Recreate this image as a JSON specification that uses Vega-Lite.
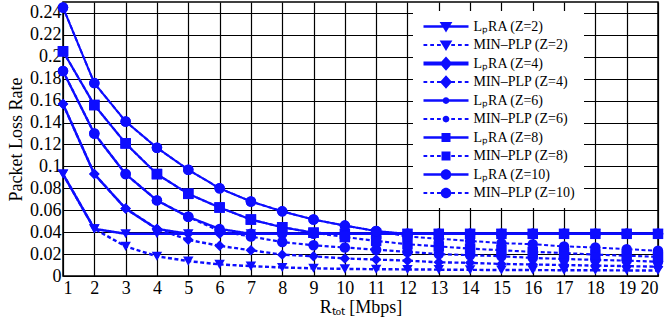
{
  "$schema": "https://vega.github.io/schema/vega-lite/v6.json",
  "width": 595,
  "height": 274,
  "autosize": "none",
  "padding": {"left": 63, "top": 2, "right": 10, "bottom": 48},
  "background": "white",
  "config": {
    "view": {"stroke": "black", "strokeWidth": 1.5},
    "font": "Liberation Serif",
    "axis": {
      "grid": true, "gridColor": "black", "gridOpacity": 1, "gridWidth": 1.2,
      "domain": false, "ticks": false,
      "labelFont": "Liberation Serif", "labelFontSize": 18, "labelColor": "black",
      "titleFont": "Liberation Serif", "titleFontSize": 18, "titleFontWeight": "normal", "titleColor": "black"
    }
  },
  "data": {"values": [
    {"s":"LₚRA (Z=2)","x":1,"y":0.093},{"s":"LₚRA (Z=2)","x":2,"y":0.043},{"s":"LₚRA (Z=2)","x":3,"y":0.0385},{"s":"LₚRA (Z=2)","x":4,"y":0.0385},{"s":"LₚRA (Z=2)","x":5,"y":0.0385},{"s":"LₚRA (Z=2)","x":6,"y":0.0385},{"s":"LₚRA (Z=2)","x":7,"y":0.0385},{"s":"LₚRA (Z=2)","x":8,"y":0.0385},{"s":"LₚRA (Z=2)","x":9,"y":0.0385},{"s":"LₚRA (Z=2)","x":10,"y":0.0385},{"s":"LₚRA (Z=2)","x":11,"y":0.0385},{"s":"LₚRA (Z=2)","x":12,"y":0.0385},{"s":"LₚRA (Z=2)","x":13,"y":0.0385},{"s":"LₚRA (Z=2)","x":14,"y":0.0385},{"s":"LₚRA (Z=2)","x":15,"y":0.0385},{"s":"LₚRA (Z=2)","x":16,"y":0.0385},{"s":"LₚRA (Z=2)","x":17,"y":0.0385},{"s":"LₚRA (Z=2)","x":18,"y":0.0385},{"s":"LₚRA (Z=2)","x":19,"y":0.0385},{"s":"LₚRA (Z=2)","x":20,"y":0.0385},
    {"s":"MIN–PLP (Z=2)","x":1,"y":0.093},{"s":"MIN–PLP (Z=2)","x":2,"y":0.043},{"s":"MIN–PLP (Z=2)","x":3,"y":0.027},{"s":"MIN–PLP (Z=2)","x":4,"y":0.018},{"s":"MIN–PLP (Z=2)","x":5,"y":0.0136},{"s":"MIN–PLP (Z=2)","x":6,"y":0.0106},{"s":"MIN–PLP (Z=2)","x":7,"y":0.009},{"s":"MIN–PLP (Z=2)","x":8,"y":0.0078},{"s":"MIN–PLP (Z=2)","x":9,"y":0.007},{"s":"MIN–PLP (Z=2)","x":10,"y":0.0065},{"s":"MIN–PLP (Z=2)","x":11,"y":0.0062},{"s":"MIN–PLP (Z=2)","x":12,"y":0.006},{"s":"MIN–PLP (Z=2)","x":13,"y":0.0058},{"s":"MIN–PLP (Z=2)","x":14,"y":0.0056},{"s":"MIN–PLP (Z=2)","x":15,"y":0.0055},{"s":"MIN–PLP (Z=2)","x":16,"y":0.0054},{"s":"MIN–PLP (Z=2)","x":17,"y":0.0053},{"s":"MIN–PLP (Z=2)","x":18,"y":0.0052},{"s":"MIN–PLP (Z=2)","x":19,"y":0.0051},{"s":"MIN–PLP (Z=2)","x":20,"y":0.005},
    {"s":"LₚRA (Z=4)","x":1,"y":0.157},{"s":"LₚRA (Z=4)","x":2,"y":0.093},{"s":"LₚRA (Z=4)","x":3,"y":0.0615},{"s":"LₚRA (Z=4)","x":4,"y":0.043},{"s":"LₚRA (Z=4)","x":5,"y":0.0385},{"s":"LₚRA (Z=4)","x":6,"y":0.0385},{"s":"LₚRA (Z=4)","x":7,"y":0.0385},{"s":"LₚRA (Z=4)","x":8,"y":0.0385},{"s":"LₚRA (Z=4)","x":9,"y":0.0385},{"s":"LₚRA (Z=4)","x":10,"y":0.0385},{"s":"LₚRA (Z=4)","x":11,"y":0.0385},{"s":"LₚRA (Z=4)","x":12,"y":0.0385},{"s":"LₚRA (Z=4)","x":13,"y":0.0385},{"s":"LₚRA (Z=4)","x":14,"y":0.0385},{"s":"LₚRA (Z=4)","x":15,"y":0.0385},{"s":"LₚRA (Z=4)","x":16,"y":0.0385},{"s":"LₚRA (Z=4)","x":17,"y":0.0385},{"s":"LₚRA (Z=4)","x":18,"y":0.0385},{"s":"LₚRA (Z=4)","x":19,"y":0.0385},{"s":"LₚRA (Z=4)","x":20,"y":0.0385},
    {"s":"MIN–PLP (Z=4)","x":1,"y":0.157},{"s":"MIN–PLP (Z=4)","x":2,"y":0.093},{"s":"MIN–PLP (Z=4)","x":3,"y":0.0615},{"s":"MIN–PLP (Z=4)","x":4,"y":0.043},{"s":"MIN–PLP (Z=4)","x":5,"y":0.033},{"s":"MIN–PLP (Z=4)","x":6,"y":0.0275},{"s":"MIN–PLP (Z=4)","x":7,"y":0.0235},{"s":"MIN–PLP (Z=4)","x":8,"y":0.0195},{"s":"MIN–PLP (Z=4)","x":9,"y":0.018},{"s":"MIN–PLP (Z=4)","x":10,"y":0.016},{"s":"MIN–PLP (Z=4)","x":11,"y":0.015},{"s":"MIN–PLP (Z=4)","x":12,"y":0.014},{"s":"MIN–PLP (Z=4)","x":13,"y":0.0125},{"s":"MIN–PLP (Z=4)","x":14,"y":0.012},{"s":"MIN–PLP (Z=4)","x":15,"y":0.011},{"s":"MIN–PLP (Z=4)","x":16,"y":0.0105},{"s":"MIN–PLP (Z=4)","x":17,"y":0.01},{"s":"MIN–PLP (Z=4)","x":18,"y":0.0095},{"s":"MIN–PLP (Z=4)","x":19,"y":0.009},{"s":"MIN–PLP (Z=4)","x":20,"y":0.0085},
    {"s":"LₚRA (Z=6)","x":1,"y":0.187},{"s":"LₚRA (Z=6)","x":2,"y":0.13},{"s":"LₚRA (Z=6)","x":3,"y":0.093},{"s":"LₚRA (Z=6)","x":4,"y":0.069},{"s":"LₚRA (Z=6)","x":5,"y":0.054},{"s":"LₚRA (Z=6)","x":6,"y":0.043},{"s":"LₚRA (Z=6)","x":7,"y":0.0385},{"s":"LₚRA (Z=6)","x":8,"y":0.0385},{"s":"LₚRA (Z=6)","x":9,"y":0.0385},{"s":"LₚRA (Z=6)","x":10,"y":0.0385},{"s":"LₚRA (Z=6)","x":11,"y":0.0385},{"s":"LₚRA (Z=6)","x":12,"y":0.0385},{"s":"LₚRA (Z=6)","x":13,"y":0.0385},{"s":"LₚRA (Z=6)","x":14,"y":0.0385},{"s":"LₚRA (Z=6)","x":15,"y":0.0385},{"s":"LₚRA (Z=6)","x":16,"y":0.0385},{"s":"LₚRA (Z=6)","x":17,"y":0.0385},{"s":"LₚRA (Z=6)","x":18,"y":0.0385},{"s":"LₚRA (Z=6)","x":19,"y":0.0385},{"s":"LₚRA (Z=6)","x":20,"y":0.0385},
    {"s":"MIN–PLP (Z=6)","x":1,"y":0.187},{"s":"MIN–PLP (Z=6)","x":2,"y":0.13},{"s":"MIN–PLP (Z=6)","x":3,"y":0.093},{"s":"MIN–PLP (Z=6)","x":4,"y":0.069},{"s":"MIN–PLP (Z=6)","x":5,"y":0.054},{"s":"MIN–PLP (Z=6)","x":6,"y":0.041},{"s":"MIN–PLP (Z=6)","x":7,"y":0.036},{"s":"MIN–PLP (Z=6)","x":8,"y":0.031},{"s":"MIN–PLP (Z=6)","x":9,"y":0.028},{"s":"MIN–PLP (Z=6)","x":10,"y":0.026},{"s":"MIN–PLP (Z=6)","x":11,"y":0.024},{"s":"MIN–PLP (Z=6)","x":12,"y":0.022},{"s":"MIN–PLP (Z=6)","x":13,"y":0.02},{"s":"MIN–PLP (Z=6)","x":14,"y":0.019},{"s":"MIN–PLP (Z=6)","x":15,"y":0.018},{"s":"MIN–PLP (Z=6)","x":16,"y":0.0165},{"s":"MIN–PLP (Z=6)","x":17,"y":0.0155},{"s":"MIN–PLP (Z=6)","x":18,"y":0.0147},{"s":"MIN–PLP (Z=6)","x":19,"y":0.014},{"s":"MIN–PLP (Z=6)","x":20,"y":0.013},
    {"s":"LₚRA (Z=8)","x":1,"y":0.205},{"s":"LₚRA (Z=8)","x":2,"y":0.156},{"s":"LₚRA (Z=8)","x":3,"y":0.121},{"s":"LₚRA (Z=8)","x":4,"y":0.093},{"s":"LₚRA (Z=8)","x":5,"y":0.075},{"s":"LₚRA (Z=8)","x":6,"y":0.0625},{"s":"LₚRA (Z=8)","x":7,"y":0.0515},{"s":"LₚRA (Z=8)","x":8,"y":0.0445},{"s":"LₚRA (Z=8)","x":9,"y":0.0395},{"s":"LₚRA (Z=8)","x":10,"y":0.0385},{"s":"LₚRA (Z=8)","x":11,"y":0.0385},{"s":"LₚRA (Z=8)","x":12,"y":0.0385},{"s":"LₚRA (Z=8)","x":13,"y":0.0385},{"s":"LₚRA (Z=8)","x":14,"y":0.0385},{"s":"LₚRA (Z=8)","x":15,"y":0.0385},{"s":"LₚRA (Z=8)","x":16,"y":0.0385},{"s":"LₚRA (Z=8)","x":17,"y":0.0385},{"s":"LₚRA (Z=8)","x":18,"y":0.0385},{"s":"LₚRA (Z=8)","x":19,"y":0.0385},{"s":"LₚRA (Z=8)","x":20,"y":0.0385},
    {"s":"MIN–PLP (Z=8)","x":1,"y":0.205},{"s":"MIN–PLP (Z=8)","x":2,"y":0.156},{"s":"MIN–PLP (Z=8)","x":3,"y":0.121},{"s":"MIN–PLP (Z=8)","x":4,"y":0.093},{"s":"MIN–PLP (Z=8)","x":5,"y":0.075},{"s":"MIN–PLP (Z=8)","x":6,"y":0.0625},{"s":"MIN–PLP (Z=8)","x":7,"y":0.0515},{"s":"MIN–PLP (Z=8)","x":8,"y":0.0445},{"s":"MIN–PLP (Z=8)","x":9,"y":0.0395},{"s":"MIN–PLP (Z=8)","x":10,"y":0.0355},{"s":"MIN–PLP (Z=8)","x":11,"y":0.032},{"s":"MIN–PLP (Z=8)","x":12,"y":0.029},{"s":"MIN–PLP (Z=8)","x":13,"y":0.027},{"s":"MIN–PLP (Z=8)","x":14,"y":0.025},{"s":"MIN–PLP (Z=8)","x":15,"y":0.0235},{"s":"MIN–PLP (Z=8)","x":16,"y":0.022},{"s":"MIN–PLP (Z=8)","x":17,"y":0.021},{"s":"MIN–PLP (Z=8)","x":18,"y":0.0195},{"s":"MIN–PLP (Z=8)","x":19,"y":0.0185},{"s":"MIN–PLP (Z=8)","x":20,"y":0.0175},
    {"s":"LₚRA (Z=10)","x":1,"y":0.245},{"s":"LₚRA (Z=10)","x":2,"y":0.176},{"s":"LₚRA (Z=10)","x":3,"y":0.141},{"s":"LₚRA (Z=10)","x":4,"y":0.117},{"s":"LₚRA (Z=10)","x":5,"y":0.097},{"s":"LₚRA (Z=10)","x":6,"y":0.08},{"s":"LₚRA (Z=10)","x":7,"y":0.068},{"s":"LₚRA (Z=10)","x":8,"y":0.059},{"s":"LₚRA (Z=10)","x":9,"y":0.0515},{"s":"LₚRA (Z=10)","x":10,"y":0.046},{"s":"LₚRA (Z=10)","x":11,"y":0.041},{"s":"LₚRA (Z=10)","x":12,"y":0.0385},{"s":"LₚRA (Z=10)","x":13,"y":0.0385},{"s":"LₚRA (Z=10)","x":14,"y":0.0385},{"s":"LₚRA (Z=10)","x":15,"y":0.0385},{"s":"LₚRA (Z=10)","x":16,"y":0.0385},{"s":"LₚRA (Z=10)","x":17,"y":0.0385},{"s":"LₚRA (Z=10)","x":18,"y":0.0385},{"s":"LₚRA (Z=10)","x":19,"y":0.0385},{"s":"LₚRA (Z=10)","x":20,"y":0.0385},
    {"s":"MIN–PLP (Z=10)","x":1,"y":0.245},{"s":"MIN–PLP (Z=10)","x":2,"y":0.176},{"s":"MIN–PLP (Z=10)","x":3,"y":0.141},{"s":"MIN–PLP (Z=10)","x":4,"y":0.117},{"s":"MIN–PLP (Z=10)","x":5,"y":0.097},{"s":"MIN–PLP (Z=10)","x":6,"y":0.08},{"s":"MIN–PLP (Z=10)","x":7,"y":0.068},{"s":"MIN–PLP (Z=10)","x":8,"y":0.059},{"s":"MIN–PLP (Z=10)","x":9,"y":0.0515},{"s":"MIN–PLP (Z=10)","x":10,"y":0.046},{"s":"MIN–PLP (Z=10)","x":11,"y":0.041},{"s":"MIN–PLP (Z=10)","x":12,"y":0.036},{"s":"MIN–PLP (Z=10)","x":13,"y":0.034},{"s":"MIN–PLP (Z=10)","x":14,"y":0.032},{"s":"MIN–PLP (Z=10)","x":15,"y":0.03},{"s":"MIN–PLP (Z=10)","x":16,"y":0.029},{"s":"MIN–PLP (Z=10)","x":17,"y":0.027},{"s":"MIN–PLP (Z=10)","x":18,"y":0.026},{"s":"MIN–PLP (Z=10)","x":19,"y":0.0245},{"s":"MIN–PLP (Z=10)","x":20,"y":0.023}
  ]},
  "encoding": {
    "x": {"field": "x", "type": "quantitative", "scale": {"domain": [1, 20], "nice": false, "zero": false},
      "axis": {"values": [1,2,3,4,5,6,7,8,9,10,11,12,13,14,15,16,17,18,19,20], "labelPadding": 3, "title": "Rₜₒₜ [Mbps]", "titlePadding": 1}},
    "y": {"field": "y", "type": "quantitative", "scale": {"domain": [0, 0.25], "nice": false},
      "axis": {"values": [0,0.02,0.04,0.06,0.08,0.1,0.12,0.14,0.16,0.18,0.2,0.22,0.24], "format": ".2~f", "labelPadding": 2, "title": "Packet Loss Rate", "titlePadding": 4}}
  },
  "layer": [
    {
      "mark": {"type": "line", "color": "#0d0dff", "clip": true},
      "encoding": {
        "strokeDash": {"field": "s", "type": "nominal", "legend": null,
          "scale": {"domain": ["LₚRA (Z=2)","MIN–PLP (Z=2)","LₚRA (Z=4)","MIN–PLP (Z=4)","LₚRA (Z=6)","MIN–PLP (Z=6)","LₚRA (Z=8)","MIN–PLP (Z=8)","LₚRA (Z=10)","MIN–PLP (Z=10)"],
            "range": [[1,0],[4,2.5],[1,0],[4,2.5],[1,0],[4,2.5],[1,0],[4,2.5],[1,0],[4,2.5]]}},
        "strokeWidth": {"field": "s", "type": "nominal", "legend": null,
          "scale": {"domain": ["LₚRA (Z=2)","MIN–PLP (Z=2)","LₚRA (Z=4)","MIN–PLP (Z=4)","LₚRA (Z=6)","MIN–PLP (Z=6)","LₚRA (Z=8)","MIN–PLP (Z=8)","LₚRA (Z=10)","MIN–PLP (Z=10)"],
            "range": [2.5,2,4,2,2.5,2,2.5,2,2.5,2]}}
      }
    },
    {
      "mark": {"type": "point", "filled": true, "color": "#0d0dff", "opacity": 1, "clip": false},
      "encoding": {
        "shape": {"field": "s", "type": "nominal", "legend": null,
          "scale": {"domain": ["LₚRA (Z=2)","MIN–PLP (Z=2)","LₚRA (Z=4)","MIN–PLP (Z=4)","LₚRA (Z=6)","MIN–PLP (Z=6)","LₚRA (Z=8)","MIN–PLP (Z=8)","LₚRA (Z=10)","MIN–PLP (Z=10)"],
            "range": ["triangle-down","triangle-down","diamond","diamond","circle","circle","square","square","circle","circle"]}},
        "size": {"field": "s", "type": "nominal", "legend": null,
          "scale": {"domain": ["LₚRA (Z=2)","MIN–PLP (Z=2)","LₚRA (Z=4)","MIN–PLP (Z=4)","LₚRA (Z=6)","MIN–PLP (Z=6)","LₚRA (Z=8)","MIN–PLP (Z=8)","LₚRA (Z=10)","MIN–PLP (Z=10)"],
            "range": [110,110,125,110,35,35,85,85,105,105]}}
      }
    },
    {
      "mark": {"type": "point", "filled": true, "color": "#0d0dff", "opacity": 0},
      "encoding": {
        "shape": {"field": "s", "type": "nominal",
          "scale": {"domain": ["LₚRA (Z=2)","MIN–PLP (Z=2)","LₚRA (Z=4)","MIN–PLP (Z=4)","LₚRA (Z=6)","MIN–PLP (Z=6)","LₚRA (Z=8)","MIN–PLP (Z=8)","LₚRA (Z=10)","MIN–PLP (Z=10)"],
            "range": [
              "M-3,-0.17H3V0.17H-3ZM-0.85,-0.6H0.85L0,0.8Z",
              "M-3,-0.13H-2.5V0.13H-3ZM-2.1,-0.13H-1.6V0.13H-2.1ZM-1.2,-0.13H-0.7V0.13H-1.2ZM0.7,-0.13H1.2V0.13H0.7ZM1.6,-0.13H2.1V0.13H1.6ZM2.5,-0.13H3V0.13H2.5ZM-0.85,-0.6H0.85L0,0.8Z",
              "M-3,-0.28H3V0.28H-3ZM0,-0.95L0.85,0L0,0.95L-0.85,0Z",
              "M-3,-0.13H-2.5V0.13H-3ZM-2.1,-0.13H-1.6V0.13H-2.1ZM-1.2,-0.13H-0.7V0.13H-1.2ZM0.7,-0.13H1.2V0.13H0.7ZM1.6,-0.13H2.1V0.13H1.6ZM2.5,-0.13H3V0.13H2.5ZM0,-0.9L0.8,0L0,0.9L-0.8,0Z",
              "M-3,-0.17H3V0.17H-3ZM-0.45,0A0.45,0.45,0,1,1,0.45,0A0.45,0.45,0,1,1,-0.45,0Z",
              "M-3,-0.13H-2.5V0.13H-3ZM-2.1,-0.13H-1.6V0.13H-2.1ZM-1.2,-0.13H-0.7V0.13H-1.2ZM0.7,-0.13H1.2V0.13H0.7ZM1.6,-0.13H2.1V0.13H1.6ZM2.5,-0.13H3V0.13H2.5ZM-0.45,0A0.45,0.45,0,1,1,0.45,0A0.45,0.45,0,1,1,-0.45,0Z",
              "M-3,-0.17H3V0.17H-3ZM-0.6,-0.6H0.6V0.6H-0.6Z",
              "M-3,-0.13H-2.5V0.13H-3ZM-2.1,-0.13H-1.6V0.13H-2.1ZM-1.2,-0.13H-0.7V0.13H-1.2ZM0.7,-0.13H1.2V0.13H0.7ZM1.6,-0.13H2.1V0.13H1.6ZM2.5,-0.13H3V0.13H2.5ZM-0.6,-0.6H0.6V0.6H-0.6Z",
              "M-3,-0.17H3V0.17H-3ZM-0.7,0A0.7,0.7,0,1,1,0.7,0A0.7,0.7,0,1,1,-0.7,0Z",
              "M-3,-0.13H-2.5V0.13H-3ZM-2.1,-0.13H-1.6V0.13H-2.1ZM-1.2,-0.13H-0.7V0.13H-1.2ZM0.7,-0.13H1.2V0.13H0.7ZM1.6,-0.13H2.1V0.13H1.6ZM2.5,-0.13H3V0.13H2.5ZM-0.7,0A0.7,0.7,0,1,1,0.7,0A0.7,0.7,0,1,1,-0.7,0Z"
            ]},
          "legend": {
            "orient": "none", "legendX": 350, "legendY": 9, "title": null,
            "fillColor": "white", "padding": 8, "strokeColor": null,
            "labelFont": "Liberation Serif", "labelFontSize": 14, "labelColor": "black",
            "symbolSize": 225, "symbolFillColor": "#0d0dff", "symbolStrokeWidth": 0, "symbolOpacity": 1,
            "symbolOffset": 17.5, "labelOffset": 20, "rowPadding": 3.5
          }
        }
      }
    }
  ],
  "resolve": {"scale": {"shape": "independent"}}
}
